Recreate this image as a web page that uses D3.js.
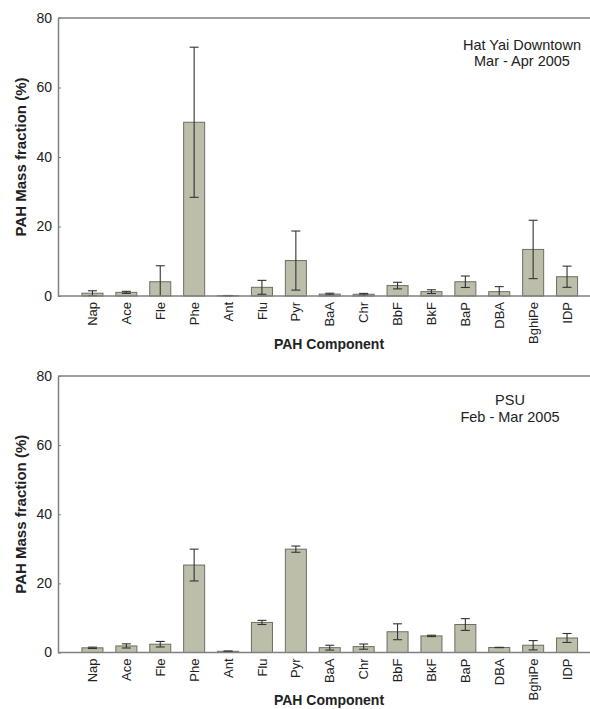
<!DOCTYPE html>
<html>
<head>
<meta charset="utf-8">
<script src="https://cdn.jsdelivr.net/npm/d3@7"></script>
<style>
  html, body { margin: 0; padding: 0; background: #fff; }
  svg { display: block; font-family: "Liberation Sans", Arial, sans-serif; }
</style>
</head>
<body>
<svg id="chart" width="590" height="709"></svg>
<script>
// PAH components, in elution order
const categories = ["Nap", "Ace", "Fle", "Phe", "Ant", "Flu", "Pyr", "BaA", "Chr", "BbF", "BkF", "BaP", "DBA", "BghiPe", "IDP"];

// Hat Yai Downtown, Mar - Apr 2005: mean mass fraction (%) and standard deviation
const hatYaiMean = [0.8, 1.05, 4.1, 50.0, 0.1, 2.5, 10.2, 0.55, 0.5, 3.0, 1.25, 4.1, 1.25, 13.4, 5.55];
const hatYaiErr  = [0.7, 0.3, 4.6, 21.6, 0.05, 2.0, 8.5, 0.25, 0.25, 0.95, 0.55, 1.65, 1.45, 8.4, 3.05];

// PSU, Feb - Mar 2005
const psuMean = [1.35, 1.9, 2.4, 25.3, 0.35, 8.7, 29.9, 1.4, 1.7, 6.0, 4.8, 8.1, 1.45, 2.1, 4.2];
const psuErr  = [0.2, 0.6, 0.8, 4.6, 0.1, 0.6, 0.9, 0.7, 0.75, 2.3, 0.2, 1.7, 0.05, 1.35, 1.3];

const yTicks = [0, 20, 40, 60, 80];
const xTitle = "PAH Component";
const yTitle = "PAH Mass fraction (%)";

const svg = d3.select("#chart");

const x = d3.scaleBand()
  .domain(categories)
  .range([75.5, 584])
  .paddingInner(0.38)
  .paddingOuter(0.19);

const axisColor = "#808080";
const textColor = "#222";

function drawPanel(cfg) {
  const { top, bottom, mean, err, titleLines, legendX, legendY, xTitleY } = cfg;
  const left = 58, right = 590;
  const y = d3.scaleLinear().domain([0, 80]).range([bottom, top]);
  const g = svg.append("g");

  // frame: top edge and baseline run to the right edge
  g.append("line").attr("x1", left).attr("x2", right).attr("y1", top).attr("y2", top)
    .attr("stroke", axisColor).attr("stroke-width", 1.5);

  // bars
  const data = categories.map((c, i) => ({ c, v: mean[i], e: err[i] }));
  g.selectAll("rect.bar").data(data).join("rect")
    .attr("class", "bar")
    .attr("x", d => x(d.c))
    .attr("width", x.bandwidth())
    .attr("y", d => y(d.v))
    .attr("height", d => y(0) - y(d.v))
    .attr("fill", "#bdbea9")
    .attr("stroke", "#6e6e64")
    .attr("stroke-width", 1);

  // error bars (clipped at zero)
  const cap = 4.5;
  const eb = g.selectAll("g.err").data(data).join("g").attr("class", "err")
    .attr("stroke", "#333").attr("stroke-width", 1.1);
  eb.append("line")
    .attr("x1", d => x(d.c) + x.bandwidth() / 2)
    .attr("x2", d => x(d.c) + x.bandwidth() / 2)
    .attr("y1", d => y(d.v + d.e))
    .attr("y2", d => y(Math.max(0, d.v - d.e)));
  eb.append("line")
    .attr("x1", d => x(d.c) + x.bandwidth() / 2 - cap)
    .attr("x2", d => x(d.c) + x.bandwidth() / 2 + cap)
    .attr("y1", d => y(d.v + d.e))
    .attr("y2", d => y(d.v + d.e));
  eb.filter(d => d.v - d.e > 0).append("line")
    .attr("x1", d => x(d.c) + x.bandwidth() / 2 - cap)
    .attr("x2", d => x(d.c) + x.bandwidth() / 2 + cap)
    .attr("y1", d => y(d.v - d.e))
    .attr("y2", d => y(d.v - d.e));

  // y axis with inward ticks
  const yAxis = g.append("g").attr("transform", `translate(${left},0)`)
    .call(d3.axisLeft(y).tickValues(yTicks).tickSizeInner(-3).tickSizeOuter(0).tickPadding(6));
  yAxis.select(".domain").attr("stroke", axisColor).attr("stroke-width", 1.5);
  yAxis.selectAll(".tick line").attr("stroke", axisColor);
  yAxis.selectAll(".tick text").attr("fill", textColor).style("font-size", "14px");

  // x axis: baseline plus rotated category labels
  const xAxis = g.append("g").attr("transform", `translate(0,${bottom})`)
    .call(d3.axisBottom(x).tickSize(0).tickPadding(0));
  xAxis.select(".domain").remove();
  xAxis.selectAll(".tick text")
    .attr("fill", textColor)
    .style("font-size", "13px")
    .attr("transform", "rotate(-90)")
    .attr("text-anchor", "end")
    .attr("x", -6)
    .attr("y", 0)
    .attr("dy", "0.35em");
  g.append("line").attr("x1", left).attr("x2", right).attr("y1", bottom).attr("y2", bottom)
    .attr("stroke", axisColor).attr("stroke-width", 1.5);

  // axis titles
  g.append("text")
    .attr("x", 329).attr("y", xTitleY)
    .attr("text-anchor", "middle")
    .attr("font-weight", "bold").style("font-size", "14px").attr("fill", textColor)
    .text(xTitle);
  g.append("text")
    .attr("transform", `translate(26,${(top + bottom) / 2}) rotate(-90)`)
    .attr("text-anchor", "middle")
    .attr("font-weight", "bold").style("font-size", "15px").attr("fill", textColor)
    .text(yTitle);

  // site / period label
  const lt = g.append("text").attr("text-anchor", "middle").style("font-size", "14.5px").attr("fill", textColor);
  titleLines.forEach((t, i) => {
    lt.append("tspan").attr("x", legendX).attr("y", legendY + i * 16.5).text(t);
  });
}

drawPanel({
  top: 18, bottom: 296, mean: hatYaiMean, err: hatYaiErr,
  titleLines: ["Hat Yai Downtown", "Mar - Apr 2005"], legendX: 522, legendY: 49.5, xTitleY: 349
});
drawPanel({
  top: 376, bottom: 652.5, mean: psuMean, err: psuErr,
  titleLines: ["PSU", "Feb - Mar 2005"], legendX: 510, legendY: 405, xTitleY: 705
});
</script>
</body>
</html>
